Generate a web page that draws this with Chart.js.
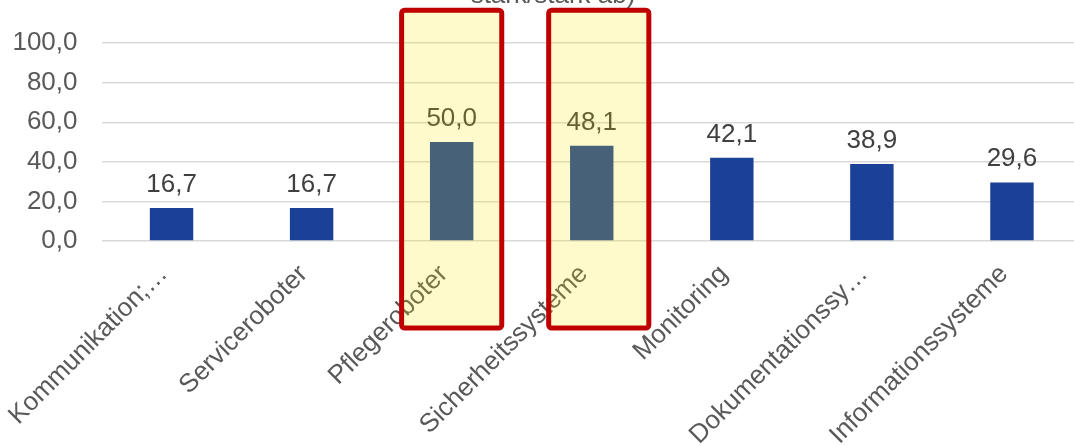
<!DOCTYPE html>
<html>
<head>
<meta charset="utf-8">
<script src="https://cdn.jsdelivr.net/npm/chart.js@4/dist/chart.umd.min.js"></script>
<style>
  html, body { margin: 0; padding: 0; background: #fff; overflow: hidden; width: 1074px; height: 446px; }
  #wrap { position: absolute; left: 0; top: -30px; width: 1082px; height: 480px; }
</style>
</head>
<body>
<div id="wrap"><canvas id="chart"></canvas></div>
<script>
// Anteil der Einrichtungen je Technologie (in %)
const categories = ['Kommunikation;…', 'Serviceroboter', 'Pflegeroboter', 'Sicherheitssysteme', 'Monitoring', 'Dokumentationssy…', 'Informationssysteme'];
const shares = [16.7, 16.7, 50.0, 48.1, 42.1, 38.9, 29.6];
const highlighted = ['Pflegeroboter', 'Sicherheitssysteme'];
const yTicks = [0, 20, 40, 60, 80, 100];
const titleLines = ['stark/stark ab)'];

const FONT = '"Liberation Sans", Arial, sans-serif';
const LABEL_SIZE = 26;
// horizontal nudge of each marker box, in category widths
const BOX_SHIFT = [0, 0.05];
// the title is centred a little right of the canvas middle
const TITLE_INSET_LEFT = 24;
const fmt = v => v.toFixed(1).replace('.', ',');

// value labels above each bar
const valueLabels = {
  id: 'valueLabels',
  afterDatasetsDraw(chart) {
    const ctx = chart.ctx;
    const meta = chart.getDatasetMeta(0);
    ctx.save();
    ctx.font = LABEL_SIZE + 'px ' + FONT;
    ctx.fillStyle = '#404040';
    ctx.textAlign = 'center';
    ctx.textBaseline = 'alphabetic';
    meta.data.forEach((bar, i) => {
      ctx.fillText(fmt(shares[i]), bar.x, bar.y - 16);
    });
    ctx.restore();
  }
};

// translucent marker boxes framed in red around selected categories
const highlightBoxes = {
  id: 'highlightBoxes',
  afterDraw(chart) {
    const ctx = chart.ctx;
    const x = chart.scales.x;
    const area = chart.chartArea;
    const step = x.width / categories.length;
    ctx.save();
    highlighted.forEach((name, k) => {
      const idx = categories.indexOf(name);
      const cx = x.getPixelForValue(idx) + (BOX_SHIFT[k] || 0) * step;
      const w = step * 0.715;
      const left = cx - w / 2;
      const top = area.top - 33;
      const h = (area.bottom + 87) - top;
      ctx.fillStyle = 'rgba(255,230,0,0.2)';
      ctx.fillRect(left, top, w, h);
      ctx.beginPath();
      ctx.roundRect(left, top, w, h, 3);
      ctx.lineWidth = 5;
      ctx.strokeStyle = '#c00000';
      ctx.stroke();
    });
    ctx.restore();
  }
};

// narrow the title box on the left so its centre sits over the plot
const titleInset = {
  id: 'titleInset',
  afterLayout(chart) {
    if (chart.titleBlock) chart.titleBlock.left += TITLE_INSET_LEFT;
  }
};

new Chart(document.getElementById('chart'), {
  type: 'bar',
  data: {
    labels: categories,
    datasets: [{
      data: shares,
      backgroundColor: '#1a4196',
      borderWidth: 0,
      barPercentage: 0.31,
      categoryPercentage: 1
    }]
  },
  options: {
    responsive: true,
    maintainAspectRatio: false,
    animation: false,
    layout: { padding: 0 },
    plugins: {
      legend: { display: false },
      tooltip: { enabled: false },
      title: {
        display: true,
        text: titleLines,
        color: '#595959',
        font: { family: FONT, size: 26, weight: 'normal' },
        padding: { top: 10, bottom: 32 }
      }
    },
    scales: {
      x: {
        grid: { display: false },
        border: { display: false },
        ticks: {
          color: '#595959',
          font: { family: FONT, size: LABEL_SIZE },
          minRotation: 45,
          maxRotation: 45,
          autoSkip: false,
          padding: 10,
          labelOffset: -8
        },
        afterFit(scale) { scale.height = 209; }
      },
      y: {
        min: 0,
        max: 100,
        afterBuildTicks(scale) { scale.ticks = yTicks.map(v => ({ value: v })); },
        grid: { color: '#d9d9d9', lineWidth: 1.5, drawTicks: false },
        border: { display: false },
        ticks: {
          color: '#595959',
          font: { family: FONT, size: LABEL_SIZE },
          padding: 24,
          callback: v => fmt(v)
        },
        afterFit(scale) { scale.width = 101.5; }
      }
    }
  },
  plugins: [valueLabels, highlightBoxes, titleInset]
});
</script>
</body>
</html>
